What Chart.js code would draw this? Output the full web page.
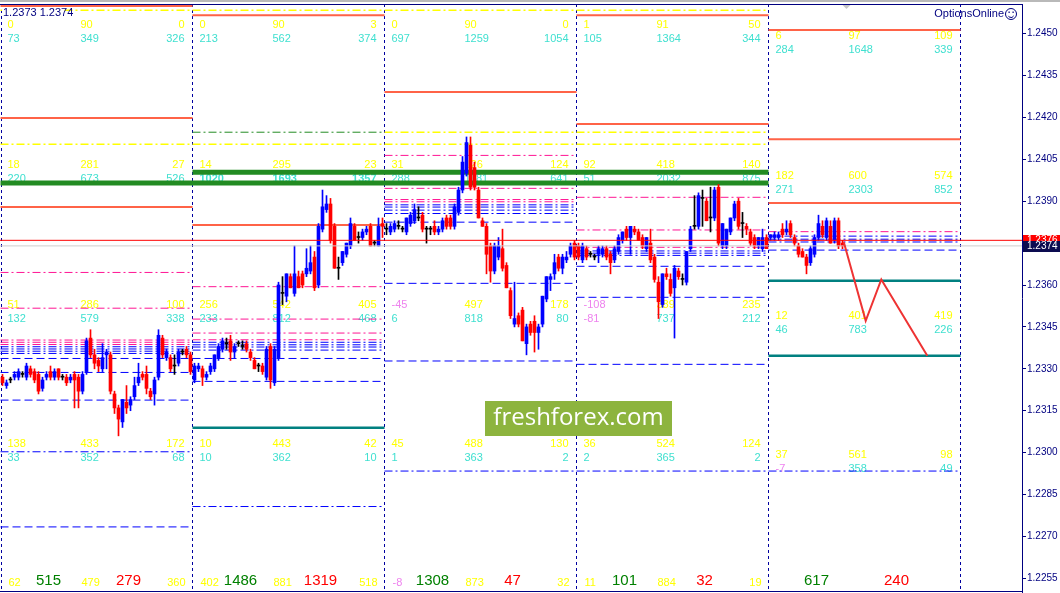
<!DOCTYPE html>
<html>
<head>
<meta charset="utf-8">
<title>Option levels M30</title>
<script src="https://cdn.jsdelivr.net/npm/chart.js@4.4.0/dist/chart.umd.min.js"></script>
<style>
    html, body { margin: 0; padding: 0; background: #ffffff; }
    canvas { display: block; }
</style>
</head>
<body>
<canvas id="chart" width="1060" height="593"></canvas>
<script>
// M30 candles per session: [open, high, low, close]
const day1 = [
    [1.2327,1.2328,1.2324,1.2325],[1.2324,1.2326,1.2323,1.2325],[1.2326,1.2327,1.2325,1.2326],[1.2327,1.2329,1.2326,1.2328],
    [1.2327,1.2330,1.2326,1.2329],[1.2328,1.2329,1.2327,1.2328],[1.2327,1.2332,1.2326,1.2331],[1.2330,1.2331,1.2327,1.2328],
    [1.2329,1.2330,1.2325,1.2326],[1.2328,1.2329,1.2321,1.2322],[1.2323,1.2327,1.2322,1.2326],[1.2327,1.2329,1.2326,1.2328],
    [1.2329,1.2331,1.2326,1.2327],[1.2327,1.2330,1.2326,1.2329],[1.2330,1.2330,1.2326,1.2327],[1.2327,1.2328,1.2326,1.2327],
    [1.2327,1.2328,1.2324,1.2325],[1.2326,1.2328,1.2325,1.2327],[1.2328,1.2329,1.2316,1.2326],[1.2327,1.2328,1.2316,1.2322],
    [1.2322,1.2329,1.2321,1.2328],[1.2329,1.2341,1.2328,1.2340],[1.2341,1.2344,1.2334,1.2335],[1.2335,1.2337,1.2330,1.2332],
    [1.2333,1.2334,1.2329,1.2331],[1.2330,1.2339,1.2329,1.2334],[1.2335,1.2337,1.2330,1.2336],[1.2335,1.2336,1.2321,1.2322],
    [1.2321,1.2322,1.2314,1.2316],[1.2316,1.2317,1.2306,1.2312],[1.2311,1.2319,1.2309,1.2319],[1.2318,1.2324,1.2314,1.2316],
    [1.2317,1.2320,1.2315,1.2319],[1.2320,1.2327,1.2319,1.2324],[1.2325,1.2332,1.2324,1.2327],[1.2328,1.2329,1.2326,1.2327],
    [1.2328,1.2331,1.2321,1.2323],[1.2322,1.2323,1.2319,1.2320],[1.2321,1.2327,1.2317,1.2326],[1.2327,1.2344,1.2326,1.2342],
    [1.2341,1.2342,1.2334,1.2335],[1.2334,1.2337,1.2333,1.2336],[1.2334,1.2335,1.2329,1.2330],[1.2331,1.2335,1.2328,1.2331],
    [1.2332,1.2337,1.2331,1.2336],[1.2336,1.2337,1.2335,1.2336],[1.2337,1.2338,1.2334,1.2335],[1.2335,1.2336,1.2328,1.2329]
];
const day2 = [
    [1.2326,1.2332,1.2325,1.2331],[1.2330,1.2332,1.2329,1.2331],[1.2330,1.2331,1.2324,1.2327],[1.2327,1.2329,1.2326,1.2328],
    [1.2329,1.2332,1.2328,1.2331],[1.2330,1.2335,1.2329,1.2335],[1.2334,1.2339,1.2333,1.2338],[1.2337,1.2341,1.2336,1.2340],
    [1.2339,1.2341,1.2337,1.2339],[1.2340,1.2342,1.2333,1.2336],[1.2336,1.2339,1.2334,1.2338],[1.2339,1.2340,1.2338,1.2339],
    [1.2338,1.2340,1.2337,1.2338],[1.2339,1.2340,1.2336,1.2337],[1.2336,1.2337,1.2333,1.2334],[1.2333,1.2334,1.2330,1.2330],
    [1.2331,1.2332,1.2329,1.2331],[1.2331,1.2332,1.2328,1.2329],[1.2327,1.2338,1.2326,1.2337],[1.2338,1.2339,1.2323,1.2326],
    [1.2325,1.2338,1.2324,1.2337],[1.2334,1.2361,1.2333,1.2360],[1.2357,1.2363,1.2353,1.2357],[1.2356,1.2364,1.2354,1.2364],
    [1.2363,1.2364,1.2359,1.2359],[1.2357,1.2374,1.2356,1.2364],[1.2363,1.2365,1.2359,1.2359],[1.2364,1.2365,1.2359,1.2360],
    [1.2364,1.2373,1.2363,1.2366],[1.2365,1.2374,1.2364,1.2368],[1.2370,1.2372,1.2358,1.2359],[1.2360,1.2382,1.2359,1.2381],
    [1.2380,1.2394,1.2379,1.2388],[1.2387,1.2392,1.2386,1.2389],[1.2389,1.2391,1.2375,1.2376],[1.2381,1.2382,1.2366,1.2366],
    [1.2366,1.2370,1.2362,1.2366],[1.2368,1.2372,1.2367,1.2372],[1.2371,1.2375,1.2370,1.2375],[1.2374,1.2384,1.2373,1.2382],
    [1.2381,1.2382,1.2376,1.2376],[1.2377,1.2379,1.2375,1.2377],[1.2377,1.2380,1.2376,1.2379],[1.2379,1.2381,1.2378,1.2380],
    [1.2381,1.2382,1.2374,1.2374],[1.2375,1.2376,1.2374,1.2375],[1.2374,1.2384,1.2374,1.2381],[1.2382,1.2384,1.2377,1.2381]
];
const day3 = [
    [1.2380,1.2382,1.2378,1.2380],[1.2379,1.2382,1.2378,1.2381],[1.2380,1.2383,1.2379,1.2382],[1.2381,1.2383,1.2380,1.2381],
    [1.2380,1.2381,1.2379,1.2380],[1.2379,1.2384,1.2378,1.2384],[1.2382,1.2386,1.2381,1.2385],[1.2383,1.2389,1.2382,1.2387],
    [1.2384,1.2388,1.2383,1.2384],[1.2385,1.2386,1.2379,1.2380],[1.2380,1.2381,1.2375,1.2380],[1.2380,1.2381,1.2378,1.2380],
    [1.2381,1.2383,1.2378,1.2379],[1.2379,1.2381,1.2378,1.2380],[1.2380,1.2384,1.2379,1.2383],[1.2384,1.2385,1.2380,1.2381],
    [1.2384,1.2385,1.2380,1.2381],[1.2381,1.2389,1.2380,1.2388],[1.2386,1.2395,1.2385,1.2394],[1.2394,1.2406,1.2393,1.2404],
    [1.2400,1.2413,1.2399,1.2411],[1.2410,1.2413,1.2394,1.2395],[1.2402,1.2404,1.2394,1.2395],[1.2394,1.2395,1.2384,1.2384],
    [1.2383,1.2384,1.2381,1.2381],[1.2381,1.2382,1.2364,1.2371],[1.2374,1.2375,1.2361,1.2365],[1.2365,1.2375,1.2364,1.2374],
    [1.2370,1.2377,1.2369,1.2374],[1.2373,1.2380,1.2365,1.2366],[1.2367,1.2368,1.2359,1.2359],[1.2358,1.2359,1.2348,1.2349],
    [1.2346,1.2361,1.2345,1.2348],[1.2349,1.2350,1.2345,1.2346],[1.2351,1.2352,1.2340,1.2340],[1.2339,1.2346,1.2335,1.2345],
    [1.2346,1.2347,1.2342,1.2343],[1.2347,1.2349,1.2336,1.2343],[1.2343,1.2346,1.2337,1.2345],[1.2346,1.2356,1.2345,1.2356],
    [1.2355,1.2363,1.2354,1.2363],[1.2362,1.2364,1.2358,1.2363],[1.2364,1.2371,1.2362,1.2368],[1.2370,1.2371,1.2365,1.2366],
    [1.2366,1.2371,1.2364,1.2370],[1.2369,1.2372,1.2368,1.2370],[1.2371,1.2375,1.2370,1.2374],[1.2375,1.2376,1.2369,1.2370]
];
const day4 = [
    [1.2374,1.2375,1.2369,1.2370],[1.2369,1.2375,1.2368,1.2374],[1.2373,1.2374,1.2369,1.2370],[1.2371,1.2372,1.2370,1.2371],
    [1.2370,1.2371,1.2369,1.2370],[1.2371,1.2374,1.2368,1.2373],[1.2371,1.2374,1.2370,1.2373],[1.2373,1.2374,1.2369,1.2370],
    [1.2371,1.2372,1.2364,1.2368],[1.2369,1.2374,1.2368,1.2373],[1.2372,1.2378,1.2371,1.2377],[1.2376,1.2379,1.2375,1.2379],
    [1.2380,1.2381,1.2376,1.2377],[1.2377,1.2381,1.2371,1.2381],[1.2380,1.2381,1.2378,1.2379],[1.2379,1.2380,1.2376,1.2376],
    [1.2377,1.2378,1.2373,1.2374],[1.2373,1.2377,1.2372,1.2377],[1.2375,1.2380,1.2368,1.2369],[1.2370,1.2371,1.2361,1.2362],
    [1.2361,1.2363,1.2348,1.2354],[1.2353,1.2364,1.2352,1.2364],[1.2364,1.2366,1.2362,1.2363],[1.2362,1.2364,1.2356,1.2357],
    [1.2359,1.2367,1.2341,1.2366],[1.2365,1.2366,1.2362,1.2363],[1.2362,1.2364,1.2360,1.2362],[1.2361,1.2372,1.2360,1.2372],
    [1.2373,1.2381,1.2372,1.2380],[1.2381,1.2392,1.2380,1.2381],[1.2381,1.2393,1.2380,1.2392],[1.2391,1.2394,1.2381,1.2391],
    [1.2390,1.2391,1.2383,1.2383],[1.2384,1.2395,1.2379,1.2384],[1.2384,1.2395,1.2383,1.2394],[1.2395,1.2396,1.2374,1.2375],
    [1.2374,1.2382,1.2373,1.2382],[1.2374,1.2380,1.2373,1.2380],[1.2379,1.2384,1.2378,1.2384],[1.2384,1.2390,1.2383,1.2389],
    [1.2390,1.2391,1.2380,1.2381],[1.2382,1.2386,1.2377,1.2382],[1.2381,1.2382,1.2378,1.2380],[1.2379,1.2380,1.2374,1.2375],
    [1.2377,1.2378,1.2373,1.2374],[1.2374,1.2377,1.2373,1.2377],[1.2373,1.2380,1.2372,1.2377],[1.2377,1.2378,1.2373,1.2373]
];
const day5 = [
    [1.2377,1.2378,1.2376,1.2378],[1.2377,1.2379,1.2376,1.2378],[1.2377,1.2379,1.2376,1.2378],[1.2380,1.2382,1.2377,1.2378],
    [1.2379,1.2383,1.2378,1.2380],[1.2382,1.2383,1.2377,1.2378],[1.2377,1.2378,1.2374,1.2375],[1.2374,1.2375,1.2370,1.2371],
    [1.2372,1.2373,1.2370,1.2370],[1.2370,1.2371,1.2364,1.2367],[1.2368,1.2374,1.2367,1.2373],[1.2371,1.2378,1.2370,1.2377],
    [1.2377,1.2385,1.2376,1.2382],[1.2381,1.2383,1.2377,1.2378],[1.2377,1.2384,1.2376,1.2383],[1.2381,1.2383,1.2375,1.2375],
    [1.2376,1.2384,1.2375,1.2383],[1.2383,1.2384,1.2373,1.2374],[1.2375,1.2376,1.2373,1.2374]
];
const candles = [...day1, ...day2, ...day3, ...day4, ...day5];

// first candle index of every session (last one closes the 5th session)
const periodStarts = [0, 48, 96, 144, 192, 240];
const priceTicks = [1.2255, 1.2270, 1.2285, 1.2300, 1.2315, 1.2330, 1.2345, 1.2360, 1.2375, 1.2390, 1.2405, 1.2420, 1.2435, 1.2450];
const bidPrice = 1.2374;
const askPrice = 1.2376;
const cornerQuote = [1.2373, 1.2374];

// levels: [first session, last session, price]
const strikeLevels = [[0,0,1.24599],[0,0,1.24198],[0,0,1.23879],[1,1,1.24566],[1,1,1.23815],[2,2,1.24291],
    [3,3,1.24566],[3,3,1.24176],[4,4,1.24513],[4,4,1.24122],[4,4,1.23894]];
const targetLevels = [[1,1,1.23089],[4,4,1.23615],[4,4,1.23347]];
const greenBands = [[1,3,1.24004],[0,3,1.23965]];
const yellowLevels = [[0,3,1.24584],[2,3,1.24147],[0,3,1.24104]];
const greenDashLevels = [[1,1,1.24147]];
const pinkLevels = [[0,0,1.23645],[0,0,1.23517],[0,0,1.23403],[0,0,1.23395],[0,0,1.23387],
    [1,1,1.23594],[1,1,1.23478],[1,1,1.23428],[1,1,1.23404],
    [2,2,1.24064],[2,2,1.23946],[2,2,1.23906],[2,2,1.23898],
    [3,3,1.23914],[3,3,1.23797],[3,3,1.23735],[4,4,1.23791]];
const blueClusterLevels = [[0,0,1.23379],[0,0,1.23371],[0,0,1.23363],[0,0,1.23355],
    [1,1,1.23395],[1,1,1.23386],[1,1,1.23378],[1,1,1.23367],
    [2,2,1.23887],[2,2,1.23879],[2,2,1.23868],[2,2,1.23856],
    [3,3,1.23722],[3,3,1.23714],[3,3,1.23706],[4,4,1.23775],[4,4,1.23764],[4,4,1.23754]];
const blueDashLevels = [[0,0,1.23337],[0,0,1.23287],[0,0,1.23188],[0,0,1.22734],[1,1,1.23337],[1,1,1.23255],
    [2,2,1.23825],[2,2,1.23606],[2,2,1.23328],[3,3,1.23667],[3,3,1.23556],[3,3,1.23316],[4,4,1.23725]];
const blueDotLevels = [[0,0,1.23003],[1,1,1.22807],[2,4,1.22934]];

// forecast path (candle index, price)
const forecastX = [210.3, 215.8, 219.7, 231.2];
const forecastY = [1.23755, 1.23472, 1.23620, 1.23347];

// option numbers per session: yellow row, turquoise row, 4 levels
const yellowRows = [
    [[0,90,0],[18,281,27],[51,286,100],[138,433,172]],
    [[0,90,3],[14,295,23],[256,542,405],[10,443,42]],
    [[0,90,0],[31,126,124],[-45,497,178],[45,488,130]],
    [[1,91,50],[92,418,140],[-108,389,235],[36,524,124]],
    [[6,97,109],[182,600,574],[12,401,419],[37,561,98]]
];
const cyanRows = [
    [[73,349,326],[220,673,526],[132,579,338],[33,352,68]],
    [[213,562,374],[1020,1693,1357],[233,812,468],[10,362,10]],
    [[697,1259,1054],[288,1181,641],[6,818,80],[1,363,2]],
    [[105,1364,344],[51,2032,875],[-81,737,212],[2,365,2]],
    [[284,1648,339],[271,2303,852],[46,783,226],[-7,358,49]]
];
const rowLevels = [
    [1.2453,1.2403,1.2353,1.2303],
    [1.2453,1.2403,1.2353,1.2303],
    [1.2453,1.2403,1.2353,1.2303],
    [1.2453,1.2403,1.2353,1.2303],
    [1.2449,1.2399,1.2349,1.2299]
];
// totals: small, big green, small, big red, small
const dayTotals = [[62,515,479,279,360],[402,1486,881,1319,518],[-8,1308,873,47,32],[11,101,884,32,19],[-44,617,373,240,93]];
const totalsLevel = [1.22533, 1.22533, 1.22533, 1.22533, 1.2248];
const totalsBigLevel = 1.2254;

const xMin = -0.625;
const xMax = 254.875;
const navy = '#000080';
const FONT = '"Liberation Sans", Arial, sans-serif';

function candleColor(c) {
    if (c[3] > c[0]) return '#0000ff';
    if (c[3] < c[0]) return '#ff0000';
    return '#000000';
}

function segments(levels) {
    const pts = [];
    levels.forEach(([from, to, price]) => {
        const a = periodStarts[from] - 0.5;
        const b = periodStarts[to + 1] - 0.5;
        pts.push({ x: a, y: price }, { x: b, y: price }, { x: b, y: null });
    });
    return pts;
}

function levelSet(levels, color, width, dash, order) {
    return {
        type: 'line',
        data: segments(levels),
        borderColor: color,
        borderWidth: width,
        borderDash: dash,
        pointRadius: 0,
        spanGaps: false,
        order: order
    };
}

const dashDot = [8, 3, 2, 3];
const dash = [8, 4];

function drawRow(ctx, left, py, vals, color) {
    const xs = [left + 7, left + 80, left + 184];
    vals.forEach((v, k) => {
        ctx.fillStyle = v < 0 ? '#ee82ee' : color;
        ctx.textAlign = k === 2 ? 'right' : 'left';
        ctx.fillText(String(v), xs[k], py);
    });
}

// numbers drawn under the levels and candles
const sessionText = {
    id: 'sessionText',
    beforeDraw(chart) {
        const ctx = chart.ctx;
        ctx.save();
        ctx.fillStyle = '#ffffff';
        ctx.fillRect(0, 0, chart.width, chart.height);
        ctx.fillStyle = '#b9b9b9';
        ctx.fillRect(0, 0, chart.width, 2);
        ctx.restore();
    },
    beforeDatasetsDraw(chart) {
        const { ctx, chartArea, scales: { x, y } } = chart;
        ctx.save();
        ctx.beginPath();
        ctx.rect(chartArea.left, chartArea.top, chartArea.right - chartArea.left, chartArea.bottom - chartArea.top);
        ctx.clip();

        // session separators
        ctx.strokeStyle = '#0000a0';
        ctx.lineWidth = 1;
        ctx.setLineDash([3, 3]);
        periodStarts.forEach(s => {
            const px = Math.max(1, Math.floor(x.getPixelForValue(s - 0.5))) + 0.5;
            ctx.beginPath();
            ctx.moveTo(px, chartArea.top);
            ctx.lineTo(px, chartArea.bottom);
            ctx.stroke();
        });
        ctx.setLineDash([]);

        ctx.textBaseline = 'middle';
        yellowRows.forEach((rows, p) => {
            const left = x.getPixelForValue(periodStarts[p] - 0.5);
            rows.forEach((vals, r) => {
                ctx.font = '11px ' + FONT;
                drawRow(ctx, left, y.getPixelForValue(rowLevels[p][r]), vals, '#ffff00');
                ctx.font = (cyanRows[p][r][0] === 1020 ? 'bold ' : '') + '11px ' + FONT;
                drawRow(ctx, left, y.getPixelForValue(rowLevels[p][r] - 0.0005), cyanRows[p][r], '#40e0d0');
            });
            const t = dayTotals[p];
            ctx.font = '11px ' + FONT;
            drawRow(ctx, left + 1, y.getPixelForValue(totalsLevel[p]), [t[0], t[2], t[4]], '#ffff00');
            ctx.font = '15px ' + FONT;
            ctx.textAlign = 'center';
            const yb = y.getPixelForValue(totalsBigLevel);
            ctx.fillStyle = '#008000';
            ctx.fillText(String(t[1]), left + 48, yb);
            ctx.fillStyle = '#ff0000';
            ctx.fillText(String(t[3]), left + 128, yb);
        });
        ctx.restore();
    },
    afterDatasetsDraw(chart) {
        const { ctx, chartArea, scales: { x } } = chart;
        ctx.save();
        // frame
        ctx.strokeStyle = navy;
        ctx.lineWidth = 1;
        ctx.beginPath();
        ctx.moveTo(0, chartArea.top + 0.5);
        ctx.lineTo(chartArea.right, chartArea.top + 0.5);
        ctx.moveTo(0, chartArea.bottom - 0.5);
        ctx.lineTo(chartArea.right, chartArea.bottom - 0.5);
        ctx.stroke();

        // quote in the corner
        ctx.font = '11px ' + FONT;
        ctx.textBaseline = 'middle';
        ctx.textAlign = 'left';
        ctx.fillStyle = '#ffffff';
        ctx.fillRect(2, 8, 62, 9);
        ctx.fillStyle = navy;
        ctx.fillText(cornerQuote[0].toFixed(4) + ' ' + cornerQuote[1].toFixed(4), 3, 12.5);

        // OptionsOnline badge
        ctx.textAlign = 'right';
        ctx.fillText('OptionsOnline', 1004, 14);
        ctx.beginPath();
        ctx.arc(1011, 14, 5.5, 0, Math.PI * 2);
        ctx.stroke();
        ctx.beginPath();
        ctx.arc(1011, 14.5, 3, 0.15 * Math.PI, 0.85 * Math.PI);
        ctx.stroke();
        ctx.fillRect(1008.5, 11.5, 1.2, 1.5);
        ctx.fillRect(1012.5, 11.5, 1.2, 1.5);

        // current bar marker
        const mx = x.getPixelForValue(211);
        ctx.fillStyle = '#c8c8c8';
        ctx.beginPath();
        ctx.moveTo(mx - 4, 5);
        ctx.lineTo(mx + 4, 5);
        ctx.lineTo(mx, 9);
        ctx.closePath();
        ctx.fill();

        // watermark
        ctx.fillStyle = '#8db43e';
        ctx.fillRect(485, 401, 187, 35);
        ctx.fillStyle = '#ffffff';
        ctx.font = '24px "Open Sans", sans-serif';
        ctx.textAlign = 'center';
        ctx.fillText('freshforex.com', 578.5, 418);
        ctx.restore();
    },
    afterDraw(chart) {
        const { ctx, chartArea, scales: { y } } = chart;
        ctx.save();
        ctx.font = '10px ' + FONT;
        ctx.textBaseline = 'middle';
        ctx.textAlign = 'left';
        const boxes = [[askPrice, '#ff0000'], [bidPrice, '#0c0c50']];
        boxes.forEach(([p, bg]) => {
            const py = Math.round(y.getPixelForValue(p));
            ctx.fillStyle = bg;
            ctx.fillRect(chartArea.right + 1, py - 5, chart.width - chartArea.right - 1, 11);
            ctx.fillStyle = '#ffffff';
            ctx.fillText(p.toFixed(4), chartArea.right + 5, py + 0.5);
        });
        ctx.restore();
    }
};

const ctx = document.getElementById('chart').getContext('2d');
new Chart(ctx, {
    type: 'bar',
    data: {
        datasets: [
            {
                type: 'line',
                data: forecastX.map((v, i) => ({ x: v, y: forecastY[i] })),
                borderColor: '#ee3333',
                borderWidth: 2,
                pointRadius: 0,
                order: 0
            },
            {
                type: 'line',
                data: [{ x: xMin, y: askPrice }, { x: xMax, y: askPrice }],
                borderColor: '#ff0000',
                borderWidth: 1,
                pointRadius: 0,
                order: 1
            },
            {
                type: 'line',
                data: [{ x: xMin, y: bidPrice }, { x: xMax, y: bidPrice }],
                borderColor: '#cfcfcf',
                borderWidth: 1,
                pointRadius: 0,
                order: 1
            },
            {
                data: candles.map((c, i) => ({ x: i, y: [c[0], c[3]] })),
                backgroundColor: candles.map(candleColor),
                barThickness: 3,
                minBarLength: 1,
                grouped: false,
                order: 2
            },
            {
                data: candles.map((c, i) => ({ x: i, y: [c[2], c[1]] })),
                backgroundColor: candles.map(candleColor),
                barThickness: 1,
                grouped: false,
                order: 3
            },
            levelSet(greenBands, '#228b22', 5, [], 10),
            levelSet(strikeLevels, '#ff6347', 2, [], 11),
            levelSet(targetLevels, '#008080', 2.5, [], 11),
            levelSet(yellowLevels, '#ffff00', 1.5, dashDot, 12),
            levelSet(greenDashLevels, '#228b22', 1, dashDot, 12),
            levelSet(pinkLevels, '#ff1493', 1, dashDot, 12),
            levelSet(blueClusterLevels, '#0000ff', 1, dashDot, 12),
            levelSet(blueDashLevels, '#0000ff', 1, dash, 12),
            levelSet(blueDotLevels, '#0000ff', 1, dashDot, 12)
        ]
    },
    options: {
        responsive: false,
        animation: false,
        events: [],
        layout: { padding: { top: 4, bottom: 1, left: 0, right: 0 } },
        plugins: {
            legend: { display: false },
            tooltip: { enabled: false }
        },
        scales: {
            x: {
                type: 'linear',
                min: xMin,
                max: xMax,
                offset: false,
                display: false
            },
            y: {
                position: 'right',
                min: 1.22501,
                max: 1.24606,
                afterBuildTicks: s => { s.ticks = priceTicks.map(v => ({ value: v })); },
                afterFit: s => { s.width = 38; s.paddingTop = 0; s.paddingBottom = 0; },
                border: { display: true, color: navy, width: 1 },
                grid: { drawOnChartArea: false, drawTicks: true, tickLength: 4, color: navy },
                ticks: {
                    color: navy,
                    padding: 1,
                    font: { family: '"Liberation Sans", Arial, sans-serif', size: 10 },
                    callback: v => Number(v).toFixed(4)
                }
            }
        }
    },
    plugins: [sessionText]
});
</script>
</body>
</html>
